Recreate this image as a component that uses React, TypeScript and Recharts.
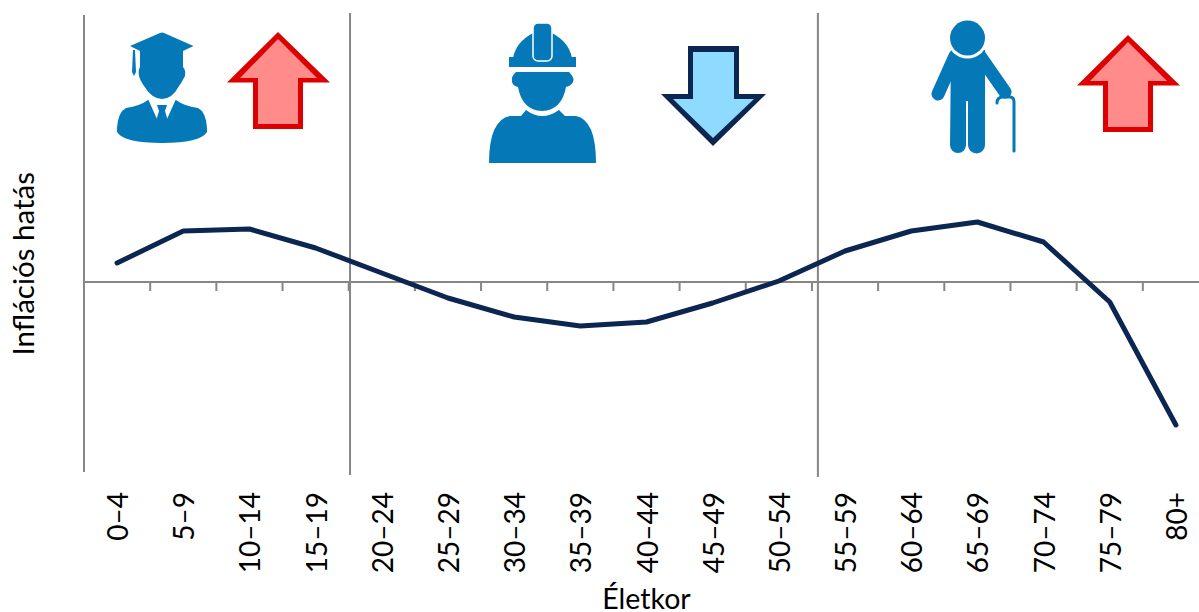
import {
  ComposedChart,
  Line,
  XAxis,
  YAxis,
  ReferenceLine,
} from "recharts";

const ageGroups = [
  "0–4", "5–9", "10–14", "15–19", "20–24", "25–29", "30–34", "35–39", "40–44",
  "45–49", "50–54", "55–59", "60–64", "65–69", "70–74", "75–79", "80+",
];
const inflationEffect = [
  0.19, 0.51, 0.53, 0.34, 0.09, -0.16, -0.35, -0.44, -0.4, -0.21, 0.01, 0.31,
  0.51, 0.6, 0.4, -0.2, -1.43,
];
const tickBoundaries = [1, 2, 3, 4, 5, 6, 7, 8, 9, 10, 11, 12, 13, 14, 15, 16];
const phaseBoundaries = [
  { at: 4.02, top: 2.69, bottom: -1.93 },
  { at: 11.09, top: 2.69, bottom: -1.95 },
];

const data = ageGroups.map((age, i) => ({
  age,
  slot: i + 0.5,
  value: inflationEffect[i],
}));

const FONT = "Lato, 'Open Sans', sans-serif";
const GREY = "#868686";
const NAVY = "#0B2650";
const ICON = "#0579B8";

const AgeTick = ({ x, y, payload }: any) => (
  <text
    x={x}
    y={y + 14}
    dy={11}
    textAnchor="end"
    transform={`rotate(-90 ${x} ${y + 14})`}
    fontSize={28}
    fontFamily={FONT}
    fill="#000"
  >
    {payload.value}
  </text>
);

const UpArrow = ({ dx, dy }: { dx: number; dy: number }) => (
  <g transform={`translate(${dx} ${dy})`}>
    <polygon
      points="278,32 330,82.5 303,82.5 303,129 253,129 253,82.5 227,82.5"
      fill="#DD0000"
    />
    <polygon
      points="278,39 317,78 298,78 298,124 258,124 258,78 240,78"
      fill="#FF8B8B"
    />
  </g>
);

const DownArrow = () => (
  <g>
    <polygon
      points="688,46 739,46 739,94 766,94 713,146 661,94 688,94"
      fill={NAVY}
    />
    <polygon
      points="693,52 734,52 734,99 754,99 713,138 673,99 693,99"
      fill="#8FDBFF"
    />
  </g>
);

const Graduate = () => (
  <g fill={ICON}>
    <path d="M130 46 L160 33 Q162 32 164 33 L193.5 46 L183 51 L183 67 Q186 70 185 76 Q182 82 179 86 Q172 99 162 99 Q152 99 144 86 Q140 80 139 76 Q138 70 140 67 L140 51 L136 49 Z" />
    <path d="M133 50 L135 50 L136 72 L134 76 L132 72 Z" />
    <path d="M117 128 Q118 112 126 108 Q140 106 148 100 L176 100 Q184 106 198 108 Q206 112 207 128 L207 132 Q200 143 162 143 Q124 143 117 132 Z" />
    <polygon points="148,99 176,99 167,119 157,119" fill="#fff" />
    <polygon points="157,105 167,105 165,111 168,121 156,121 159,111" />
  </g>
);

const Worker = () => (
  <g fill={ICON}>
    <path d="M513 58 Q516 42 533 33 L552 33 Q569 42 572 58 Z" />
    <rect x="509" y="57" width="67" height="10" />
    <rect x="533" y="23" width="19" height="38" rx="5" stroke="#fff" strokeWidth="1.5" />
    <path d="M516 72 L569 72 Q575 78 573 82 Q571 86 566 87 Q562 110 542 111 Q522 110 518 87 Q513 86 512 82 Q511 76 516 72 Z" />
    <path d="M489 163 Q489 120 510 116 L521 116 L526 110 Q542 122 559 110 L565 116 L576 116 Q596 120 596 163 Z" />
  </g>
);

const OldMan = () => (
  <g>
    <path
      d="M951 50 L985 50 L985 145 A8 8 0 0 1 968 145 L968 101 L966 101 L966 145 A8 8 0 0 1 950 145 Z"
      fill={ICON}
    />
    <line x1="955" y1="56" x2="938" y2="94" stroke={ICON} strokeWidth="13" strokeLinecap="round" />
    <line x1="980" y1="56" x2="1005" y2="92" stroke={ICON} strokeWidth="13" strokeLinecap="round" />
    <circle cx="967.5" cy="38" r="20.5" fill="#fff" />
    <circle cx="967.5" cy="38" r="17.5" fill={ICON} />
    <path
      d="M997 103 Q997 97 1003 97 L1010 97 Q1014 97 1014 102 L1014 151"
      fill="none"
      stroke={ICON}
      strokeWidth="3"
      strokeLinecap="round"
    />
  </g>
);

const App = () => {
  return (
    <div style={{ position: "absolute", left: 0, top: 0, width: 1199, height: 612, overflow: "hidden", background: "#fff" }}>
      <ComposedChart
        width={1225}
        height={612}
        data={data}
        margin={{ top: 15, right: 16, bottom: 0, left: 0 }}
      >
        <XAxis
          dataKey="age"
          scale="band"
          interval={0}
          height={140}
          axisLine={false}
          tickLine={false}
          tickMargin={0}
          tick={AgeTick}
          label={{ value: "Életkor", position: "insideBottom", offset: 3, fontSize: 28.5, fill: "#000", fontFamily: FONT }}
        />
        <XAxis xAxisId="grid" dataKey="slot" type="number" domain={[0, 17]} allowDataOverflow hide />
        <YAxis
          width={84}
          domain={[-1.9, 2.67]}
          tick={false}
          tickLine={false}
          axisLine={{ stroke: GREY, strokeWidth: 2 }}
          label={{ value: "Inflációs hatás", angle: -90, position: "insideLeft", offset: 24, dy: 112, fontSize: 29.5, fill: "#000", fontFamily: FONT }}
        />
        <ReferenceLine y={0} stroke={GREY} strokeWidth={2} />
        {tickBoundaries.map((k) => (
          <ReferenceLine
            key={k}
            xAxisId="grid"
            segment={[{ x: k, y: 0 }, { x: k, y: -0.09 }]}
            stroke={GREY}
            strokeWidth={2}
          />
        ))}
        {phaseBoundaries.map((b) => (
          <ReferenceLine
            key={b.at}
            xAxisId="grid"
            ifOverflow="visible"
            segment={[{ x: b.at, y: b.top }, { x: b.at, y: b.bottom }]}
            stroke={GREY}
            strokeWidth={2}
          />
        ))}
        <Line
          dataKey="value"
          stroke={NAVY}
          strokeWidth={5}
          strokeLinecap="round"
          strokeLinejoin="round"
          dot={false}
          activeDot={false}
          isAnimationActive={false}
        />
      </ComposedChart>
      <svg width={1199} height={612} style={{ position: "absolute", left: 0, top: 0, pointerEvents: "none" }}>
        <Graduate />
        <UpArrow dx={0} dy={0} />
        <Worker />
        <DownArrow />
        <OldMan />
        <UpArrow dx={850} dy={3} />
      </svg>
    </div>
  );
};

export default App;
